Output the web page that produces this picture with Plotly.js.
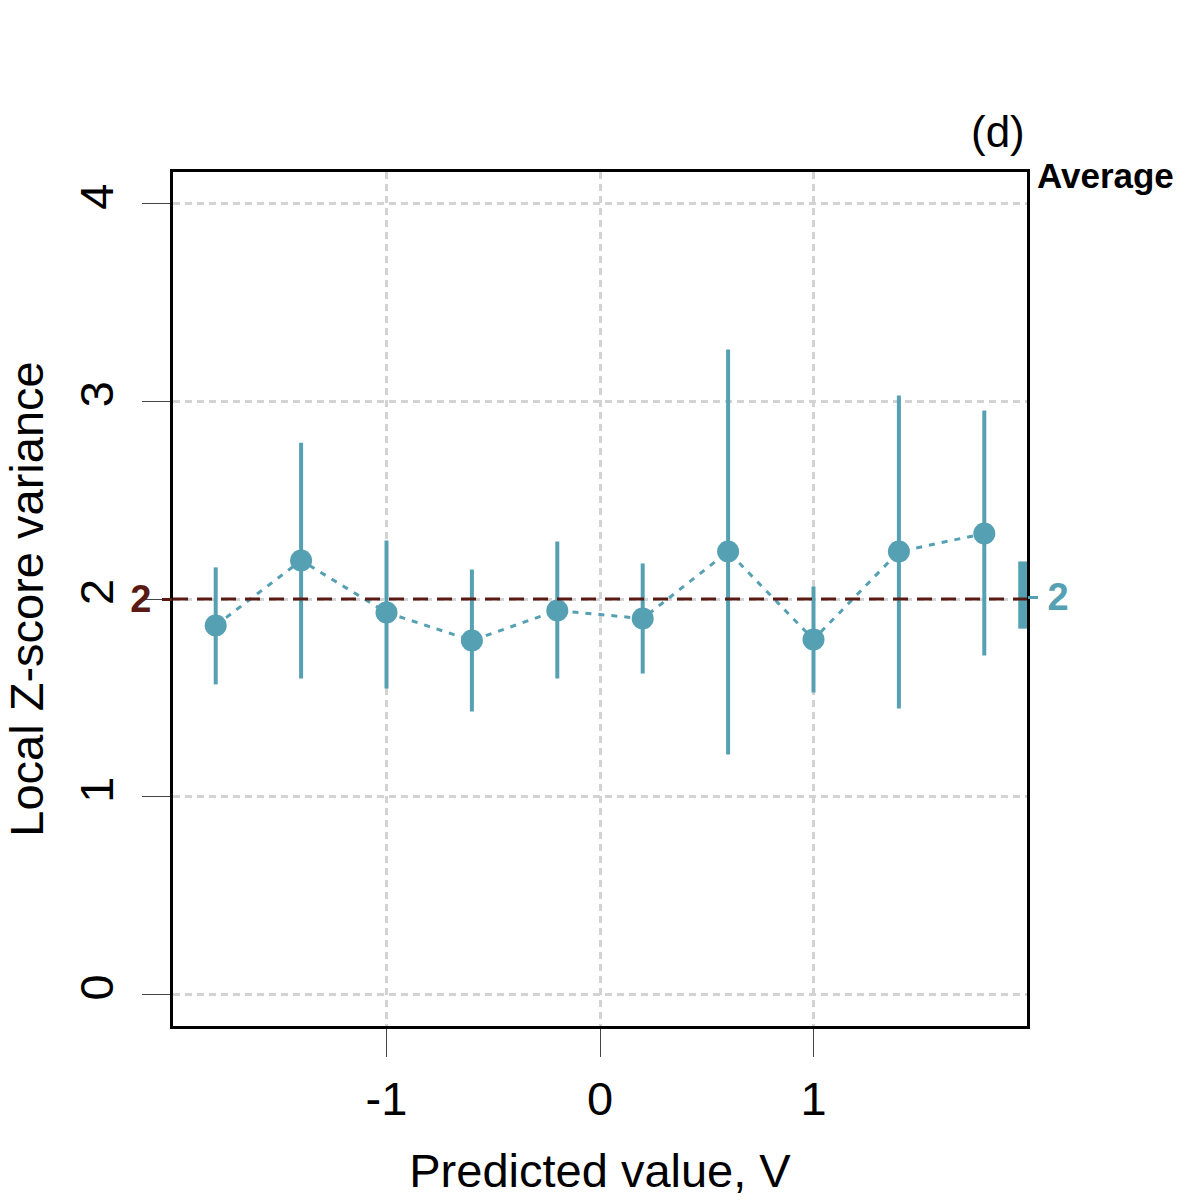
<!DOCTYPE html>
<html>
<head>
<meta charset="utf-8">
<script src="https://cdn.plot.ly/plotly-3.0.1.min.js"></script>
<style>
  body { margin: 0; background: #fff; }
  #chart { width: 1200px; height: 1200px; }
</style>
</head>
<body>
<div id="chart"></div>
<script>
// bin centres of the predicted value
var binCenters = [-1.8, -1.4, -1.0, -0.6, -0.2, 0.2, 0.6, 1.0, 1.4, 1.8];
// local z-score variance and its interval
var zVariance = [1.866, 2.195, 1.932, 1.790, 1.942, 1.901, 2.240, 1.795, 2.240, 2.331];
var zUpper    = [2.160, 2.790, 2.296, 2.149, 2.291, 2.180, 3.262, 2.063, 3.029, 2.953];
var zLower    = [1.568, 1.598, 1.547, 1.431, 1.598, 1.623, 1.214, 1.527, 1.446, 1.714];

// average over all bins
var avgValue = 2.01;
var avgLower = 1.85;
var avgUpper = 2.19;
var avgLabel = ['2'];

// reference level
var refLevel = 2;
var refLabel = ['2'];

var xTicks = [-1, 0, 1];
var xTickText = ['-1', '0', '1'];
var yTicks = [0, 1, 2, 3, 4];

var teal = '#56a0b3';
var brown = '#5a1a14';
var font = 'Liberation Sans, Arial, sans-serif';
var xRange = [-2, 2];
var yRange = [-0.16, 4.16];

var errPlus = zUpper.map(function (u, i) { return u - zVariance[i]; });
var errMinus = zLower.map(function (l, i) { return zVariance[i] - l; });

// dashed reference level across the whole panel
var traceRef = {
    type: 'scatter',
    mode: 'lines',
    x: xRange,
    y: [refLevel, refLevel],
    yaxis: 'y3',
    line: {color: brown, width: 3, dash: '15px,9px'},
    hoverinfo: 'skip',
    showlegend: false
};

var traceLine = {
    type: 'scatter',
    mode: 'lines',
    x: binCenters,
    y: zVariance,
    line: {color: teal, width: 3, dash: '6px,7px'},
    hoverinfo: 'skip',
    showlegend: false
};

var tracePoints = {
    type: 'scatter',
    mode: 'markers',
    x: binCenters,
    y: zVariance,
    marker: {color: teal, size: 22},
    error_y: {
        type: 'data',
        symmetric: false,
        array: errPlus,
        arrayminus: errMinus,
        thickness: 4,
        width: 0,
        color: teal
    },
    showlegend: false
};

var traceAvg = {
    type: 'scatter',
    mode: 'lines',
    x: [1.98, 1.98],
    y: [avgLower, avgUpper],
    yaxis: 'y2',
    line: {color: teal, width: 9},
    showlegend: false
};

var layout = {
    width: 1200,
    height: 1200,
    margin: {l: 173, r: 173, t: 172, b: 174},
    paper_bgcolor: '#fff',
    plot_bgcolor: '#fff',
    font: {family: font, color: '#000'},
    xaxis: {
        range: xRange,
        tickmode: 'array',
        tickvals: xTicks,
        ticktext: xTickText,
        ticks: 'outside',
        ticklen: 28,
        tickwidth: 1,
        tickcolor: '#444',
        ticklabelstandoff: 2,
        tickfont: {size: 47, family: font},
        showgrid: true,
        gridcolor: '#d3d3d3',
        gridwidth: 2.5,
        griddash: '7px,5px',
        zeroline: false,
        showline: true,
        linecolor: '#000',
        linewidth: 3,
        mirror: true,
        title: {text: 'Predicted value, V', font: {size: 47}, standoff: 30}
    },
    yaxis: {
        range: yRange,
        tickmode: 'array',
        tickvals: yTicks,
        ticks: 'outside',
        ticklen: 28,
        tickwidth: 1,
        tickcolor: '#444',
        tickangle: -90,
        ticklabelstandoff: 10,
        tickfont: {size: 47, family: font},
        showgrid: true,
        gridcolor: '#d3d3d3',
        gridwidth: 2.5,
        griddash: '7px,5px',
        zeroline: false,
        showline: true,
        linecolor: '#000',
        linewidth: 3,
        mirror: true,
        title: {text: 'Local Z-score variance', font: {size: 47}, standoff: 28}
    },
    yaxis2: {
        overlaying: 'y',
        anchor: 'x',
        side: 'right',
        range: yRange,
        tickmode: 'array',
        tickvals: [avgValue],
        ticktext: avgLabel,
        ticks: 'outside',
        ticklen: 10,
        tickwidth: 3,
        tickcolor: teal,
        ticklabelstandoff: 2,
        tickfont: {size: 38, color: teal, weight: 'bold', family: font},
        showgrid: false,
        zeroline: false,
        showline: false
    },
    yaxis3: {
        overlaying: 'y',
        anchor: 'x',
        side: 'left',
        range: yRange,
        tickmode: 'array',
        tickvals: [refLevel],
        ticktext: refLabel,
        ticks: 'outside',
        ticklen: 10,
        tickwidth: 3,
        tickcolor: brown,
        ticklabelstandoff: 3,
        tickfont: {size: 38, color: brown, weight: 'bold', family: font},
        showgrid: false,
        zeroline: false,
        showline: false
    },
    annotations: [{
        text: '(d)',
        xref: 'paper',
        yref: 'paper',
        x: 1,
        y: 1,
        xanchor: 'right',
        yanchor: 'bottom',
        yshift: 14,
        showarrow: false,
        font: {size: 44, family: font}
    }, {
        text: 'Average',
        xref: 'paper',
        yref: 'paper',
        x: 1,
        y: 1,
        xanchor: 'left',
        yanchor: 'middle',
        xshift: 8,
        yshift: -3,
        showarrow: false,
        font: {size: 35, family: font, weight: 'bold'}
    }]
};

Plotly.newPlot('chart', [traceRef, traceLine, tracePoints, traceAvg], layout, {displayModeBar: false});
</script>
</body>
</html>
